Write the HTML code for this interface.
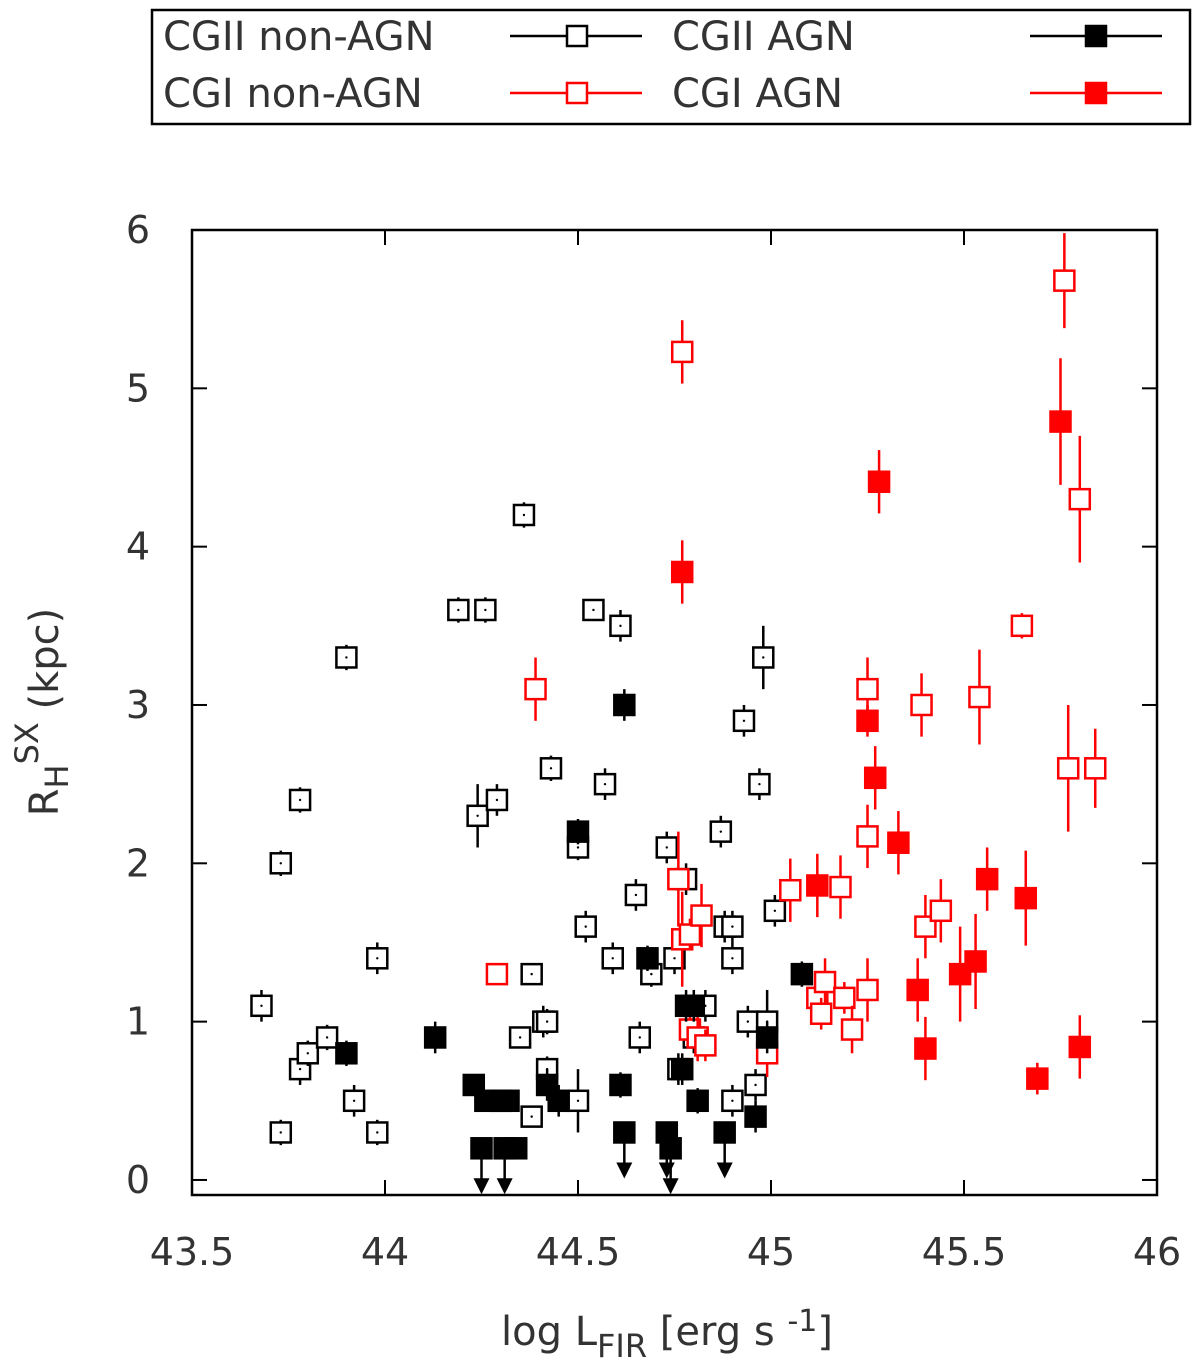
<!DOCTYPE html>
<html><head><meta charset="utf-8"><style>
body{margin:0;background:#fff;}
svg text{font-family:"DejaVu Sans","Liberation Sans",sans-serif;fill:#333;}
</style></head><body>
<svg id="chart" width="1200" height="1365" viewBox="0 0 1200 1365" xmlns="http://www.w3.org/2000/svg">
<g>
<rect x="152" y="10" width="1038" height="114" fill="#fff" stroke="#000" stroke-width="2.5"/>
<g>
<text x="163" y="50" font-size="40">CGII non-AGN</text>
<line x1="510" y1="36" x2="642" y2="36" stroke="#000" stroke-width="2.5"/>
<rect x="567" y="26" width="20" height="20" fill="#fff" stroke="#000" stroke-width="2.5"/></g>
<g>
<text x="672" y="50" font-size="40">CGII AGN</text>
<line x1="1030" y1="36" x2="1162" y2="36" stroke="#000" stroke-width="2.5"/>
<rect x="1086" y="26" width="20" height="20" fill="#000" stroke="#000" stroke-width="2.5"/></g>
<g>
<text x="163" y="107" font-size="40">CGI non-AGN</text>
<line x1="510" y1="93" x2="642" y2="93" stroke="#f00" stroke-width="2.5"/>
<rect x="567" y="83" width="20" height="20" fill="#fff" stroke="#f00" stroke-width="2.5"/></g>
<g>
<text x="672" y="107" font-size="40">CGI AGN</text>
<line x1="1030" y1="93" x2="1162" y2="93" stroke="#f00" stroke-width="2.5"/>
<rect x="1086" y="83" width="20" height="20" fill="#f00" stroke="#f00" stroke-width="2.5"/></g>
</g>
<g id="axes"></g>
<g id="marks"></g>
<text x="667" y="1345" font-size="40" text-anchor="middle">log L<tspan font-size="32" dy="12">FIR</tspan><tspan dy="-12"> [erg s </tspan><tspan font-size="30" dy="-14">-1</tspan><tspan dy="14">]</tspan></text>
<text transform="translate(58,712) rotate(-90)" font-size="40" text-anchor="middle">R<tspan font-size="32" dy="10">H</tspan><tspan font-size="32" dy="-30">SX</tspan><tspan dy="20"> (kpc)</tspan></text>
</svg>
<script>
const xTicks=[43.5,44,44.5,45,45.5,46];
const xTickLabels=["43.5","44","44.5","45","45.5","46"];
const yTicks=[0,1,2,3,4,5,6];
const yTickLabels=["0","1","2","3","4","5","6"];
// [x, y, error]
const cgiiNonAgn=[[43.68,1.1,0.1],[43.73,2.0,0.08],[43.73,0.3,0.08],[43.78,2.4,0.08],[43.78,0.7,0.1],[43.8,0.8,0.08],[43.85,0.9,0.08],[43.9,3.3,0.08],[43.92,0.5,0.1],[43.98,1.4,0.1],[43.98,0.3,0.08],[44.19,3.6,0.08],[44.26,3.6,0.08],[44.24,2.3,0.2],[44.29,2.4,0.1],[44.36,4.2,0.08],[44.35,0.9,0.05],[44.38,1.3,0.05],[44.38,0.4,0.05],[44.41,1.0,0.1],[44.42,1.0,0.08],[44.42,0.7,0.08],[44.43,2.6,0.08],[44.5,2.1,0.08],[44.5,0.5,0.2],[44.52,1.6,0.1],[44.54,3.6,0.05],[44.57,2.5,0.1],[44.59,1.4,0.1],[44.61,3.5,0.1],[44.65,1.8,0.1],[44.66,0.9,0.1],[44.69,1.3,0.08],[44.73,2.1,0.1],[44.75,1.4,0.1],[44.76,0.7,0.1],[44.78,1.9,0.1],[44.8,0.9,0.1],[44.83,1.1,0.1],[44.87,2.2,0.1],[44.88,1.6,0.1],[44.9,1.6,0.1],[44.9,1.4,0.1],[44.9,0.5,0.1],[44.93,2.9,0.1],[44.94,1.0,0.1],[44.96,0.6,0.1],[44.97,2.5,0.1],[44.98,3.3,0.2],[44.99,1.0,0.2],[45.01,1.7,0.1]];
const cgiiAgn=[[43.9,0.8,0.08],[44.13,0.9,0.1],[44.23,0.6,0.05],[44.26,0.5,0.05],[44.3,0.5,0.05],[44.32,0.5,0.05],[44.34,0.2,0.03],[44.42,0.6,0.1],[44.45,0.5,0.1],[44.5,2.2,0.08],[44.61,0.6,0.08],[44.62,3.0,0.1],[44.68,1.4,0.08],[44.77,0.7,0.1],[44.78,1.1,0.1],[44.8,1.1,0.1],[44.81,0.5,0.08],[44.96,0.4,0.1],[44.99,0.9,0.1],[45.08,1.3,0.08]];
// upper limits [x, y]
const cgiiLimits=[[44.25,0.2],[44.31,0.2],[44.62,0.3],[44.73,0.3],[44.74,0.2],[44.88,0.3]];
const cgiNonAgn=[[44.29,1.3,0.05],[44.39,3.1,0.2],[44.77,5.23,0.2],[44.76,1.9,0.3],[44.77,1.52,0.3],[44.79,1.55,0.1],[44.79,0.95,0.1],[44.81,0.9,0.15],[44.82,1.67,0.2],[44.83,0.85,0.1],[44.99,0.8,0.15],[45.05,1.83,0.2],[45.12,1.15,0.15],[45.14,1.25,0.15],[45.13,1.05,0.1],[45.18,1.85,0.2],[45.19,1.15,0.1],[45.21,0.95,0.15],[45.25,3.1,0.2],[45.25,2.17,0.2],[45.25,1.2,0.2],[45.39,3.0,0.2],[45.4,1.6,0.2],[45.44,1.7,0.2],[45.54,3.05,0.3],[45.65,3.5,0.08],[45.76,5.68,0.3],[45.77,2.6,0.4],[45.8,4.3,0.4],[45.84,2.6,0.25]];
const cgiAgn=[[44.77,3.84,0.2],[45.12,1.86,0.2],[45.25,2.9,0.1],[45.27,2.54,0.2],[45.28,4.41,0.2],[45.33,2.13,0.2],[45.38,1.2,0.2],[45.4,0.83,0.2],[45.49,1.3,0.3],[45.53,1.38,0.3],[45.56,1.9,0.2],[45.66,1.78,0.3],[45.69,0.64,0.1],[45.75,4.79,0.4],[45.8,0.84,0.2]];

const NS="http://www.w3.org/2000/svg";
const L=192,R=1157,T=230,B=1195,XMIN=43.5,XMAX=46,YMIN=-0.095,YMAX=6;
const sx=v=>L+(v-XMIN)/(XMAX-XMIN)*(R-L);
const sy=v=>B-(v-YMIN)/(YMAX-YMIN)*(B-T);
const M=10;
function mk(tag,attrs,parent){const e=document.createElementNS(NS,tag);for(const k in attrs)e.setAttribute(k,attrs[k]);parent.appendChild(e);return e;}
const axes=document.getElementById('axes'),marks=document.getElementById('marks');
const frame=mk('rect',{x:L,y:T,width:R-L,height:B-T,fill:'none',stroke:'#000','stroke-width':2.5},axes);


xTicks.forEach((t,i)=>{const x=sx(t);
 mk('line',{x1:x,y1:B,x2:x,y2:B-15,stroke:'#000','stroke-width':2},axes);
 mk('line',{x1:x,y1:T,x2:x,y2:T+15,stroke:'#000','stroke-width':2},axes);
 const tx=mk('text',{x:x,y:1265,'font-size':38,'text-anchor':'middle'},axes);tx.textContent=xTickLabels[i];
 
 });
yTicks.forEach((t,i)=>{const y=sy(t);
 mk('line',{x1:L,y1:y,x2:L+15,y2:y,stroke:'#000','stroke-width':2},axes);
 mk('line',{x1:R,y1:y,x2:R-15,y2:y,stroke:'#000','stroke-width':2},axes);
 const tx=mk('text',{x:150,y:y+13,'font-size':38,'text-anchor':'end'},axes);tx.textContent=yTickLabels[i];
 
 });
function series(data,color,filled,name){
 const g=mk('g',{},marks);
 
 
 data.forEach(d=>{const x=sx(d[0]),y=sy(d[1]);
  mk('line',{x1:x,y1:sy(d[1]-d[2]),x2:x,y2:sy(d[1]+d[2]),stroke:color,'stroke-width':2.5},g);
  const r=mk('rect',{x:x-M,y:y-M,width:2*M,height:2*M,fill:filled?color:'#fff',stroke:color,'stroke-width':2.5},g);
  
  
  if(!filled&&color==='#000')mk('circle',{cx:x,cy:y,r:1.2,fill:'#000'},g);});
 return g;}
series(cgiiNonAgn,'#000',false,'series-cgii-non-agn');
series(cgiNonAgn,'#f00',false,'series-cgi-non-agn');
const ga=series(cgiiAgn,'#000',true,'series-cgii-agn');
cgiiLimits.forEach(d=>{const x=sx(d[0]),y=sy(d[1]);
 mk('line',{x1:x,y1:y,x2:x,y2:y+42,stroke:'#000','stroke-width':2.5},ga);
 mk('polygon',{points:`${x-8},${y+30} ${x+8},${y+30} ${x},${y+46}`,fill:'#000'},ga);
 const r=mk('rect',{x:x-M,y:y-M,width:2*M,height:2*M,fill:'#000',stroke:'#000','stroke-width':2.5},ga);
 
 });
series(cgiAgn,'#f00',true,'series-cgi-agn');
</script>
</body></html>
